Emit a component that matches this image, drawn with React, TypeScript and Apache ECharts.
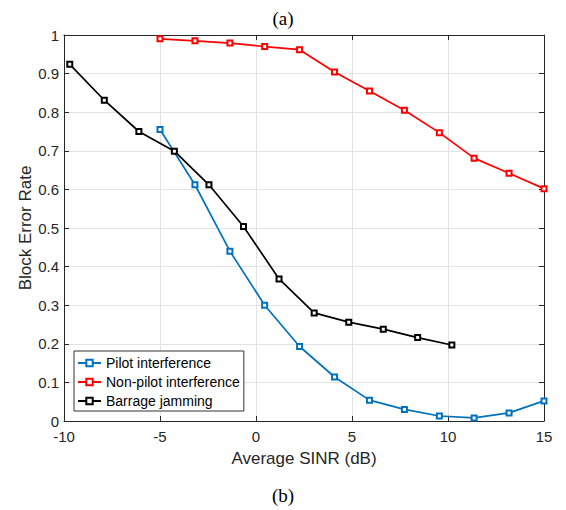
import React, { useEffect, useRef } from "react";
import * as echarts from "echarts";

const sinrA: number[] = [-5, -3.18, -1.36, 0.45, 2.27, 4.09, 5.91, 7.73, 9.55, 11.36, 13.18, 15];
const pilotBler: number[] = [0.755, 0.612, 0.44, 0.3, 0.193, 0.114, 0.054, 0.03, 0.013, 0.008, 0.021, 0.052];
const nonPilotBler: number[] = [0.99, 0.985, 0.979, 0.97, 0.962, 0.904, 0.855, 0.805, 0.747, 0.681, 0.642, 0.602];
const sinrB: number[] = [-9.7, -7.9, -6.1, -4.25, -2.45, -0.65, 1.2, 3.03, 4.83, 6.63, 8.42, 10.2];
const barrageBler: number[] = [0.924, 0.831, 0.75, 0.699, 0.612, 0.504, 0.368, 0.28, 0.256, 0.238, 0.216, 0.197];

const seriesNames: string[] = ["Pilot interference", "Non-pilot interference", "Barrage jamming"];
const seriesColors: string[] = ["#0072BD", "#FF0000", "#000000"];

const topTitle = "(a)";
const bottomTitle = "(b)";
const xName = "Average SINR (dB)";
const yName = "Block Error Rate";

const FONT = "'Liberation Sans', Arial, Helvetica, sans-serif";
const AXIS_COLOR = "#262626";

function pairs(xs: number[], ys: number[]): number[][] {
  return xs.map((x, i) => [x, ys[i]]);
}

export default function App() {
  const ref = useRef<HTMLDivElement>(null);

  useEffect(() => {
    if (!ref.current) return;
    const chart = echarts.init(ref.current, null, { renderer: "svg" });

    const datasets = [pairs(sinrA, pilotBler), pairs(sinrA, nonPilotBler), pairs(sinrB, barrageBler)];

    const baseX = {
      type: "value" as const,
      min: -10,
      max: 15,
      interval: 5,
    };
    const baseY = {
      type: "value" as const,
      min: 0,
      max: 1,
      interval: 0.1,
    };

    chart.setOption({
      animation: false,
      backgroundColor: "#ffffff",
      title: [
        {
          text: topTitle,
          left: "center",
          top: 4,
          textStyle: { fontFamily: "'Liberation Serif', 'Times New Roman', serif", fontSize: 19, fontWeight: "normal", color: "#000" },
        },
        {
          text: bottomTitle,
          left: "center",
          top: 481,
          textStyle: { fontFamily: "'Liberation Serif', 'Times New Roman', serif", fontSize: 19, fontWeight: "normal", color: "#000" },
        },
      ],
      grid: { left: 64, right: 22, top: 35, bottom: 89, containLabel: false },
      legend: {
        orient: "vertical",
        left: 74,
        top: 351,
        data: seriesNames,
        itemWidth: 23,
        itemHeight: 8,
        itemGap: 5,
        itemTextGap: 3,
        padding: [5, 4, 3, 3],
        backgroundColor: "#ffffff",
        borderColor: "#333333",
        borderWidth: 1,
        textStyle: { fontFamily: FONT, fontSize: 14, color: "#000", lineHeight: 14 },
      },
      xAxis: [
        {
          ...baseX,
          position: "bottom",
          name: xName,
          nameLocation: "middle",
          nameGap: 29,
          nameMoveOverlap: false,
          nameTextStyle: { fontFamily: FONT, fontSize: 17, color: AXIS_COLOR },
          axisLine: { show: true, onZero: false, lineStyle: { color: AXIS_COLOR, width: 1 } },
          axisTick: { show: true, inside: true, length: 5, lineStyle: { color: AXIS_COLOR } },
          axisLabel: { fontFamily: FONT, fontSize: 15, color: AXIS_COLOR, margin: 8 },
          splitLine: { show: true, lineStyle: { color: "#e3e3e3", width: 1 } },
        },
        {
          ...baseX,
          position: "top",
          axisLine: { show: true, onZero: false, lineStyle: { color: AXIS_COLOR, width: 1 } },
          axisTick: { show: true, inside: true, length: 5, lineStyle: { color: AXIS_COLOR } },
          axisLabel: { show: false },
          splitLine: { show: false },
        },
      ],
      yAxis: [
        {
          ...baseY,
          position: "left",
          name: yName,
          nameLocation: "middle",
          nameGap: 30,
          nameMoveOverlap: false,
          nameTextStyle: { fontFamily: FONT, fontSize: 17, color: AXIS_COLOR },
          axisLine: { show: true, onZero: false, lineStyle: { color: AXIS_COLOR, width: 1 } },
          axisTick: { show: true, inside: true, length: 5, lineStyle: { color: AXIS_COLOR } },
          axisLabel: {
            fontFamily: FONT,
            fontSize: 15,
            color: AXIS_COLOR,
            margin: 5,
            formatter: (v: number) => (v === 0 ? "0" : v === 1 ? "1" : v.toFixed(1)),
          },
          splitLine: { show: true, lineStyle: { color: "#e3e3e3", width: 1 } },
        },
        {
          ...baseY,
          position: "right",
          axisLine: { show: true, onZero: false, lineStyle: { color: AXIS_COLOR, width: 1 } },
          axisTick: { show: true, inside: true, length: 5, lineStyle: { color: AXIS_COLOR } },
          axisLabel: { show: false },
          splitLine: { show: false },
        },
      ],
      series: seriesNames.map((name, i) => ({
        name,
        type: "line",
        xAxisIndex: 0,
        yAxisIndex: 0,
        data: datasets[i],
        symbol: "emptyRect",
        symbolSize: 5,
        showAllSymbol: true,
        color: seriesColors[i],
        lineStyle: { color: seriesColors[i], width: 1.7 },
        itemStyle: { color: seriesColors[i], borderColor: seriesColors[i], borderWidth: 1.4 },
        emphasis: { disabled: true },
        z: 2 + i,
      })),
    });

    return () => {
      chart.dispose();
    };
  }, []);

  return (
    <div
      ref={ref}
      style={{ position: "fixed", left: 0, top: 0, width: 566, height: 510, background: "#fff" }}
    />
  );
}
